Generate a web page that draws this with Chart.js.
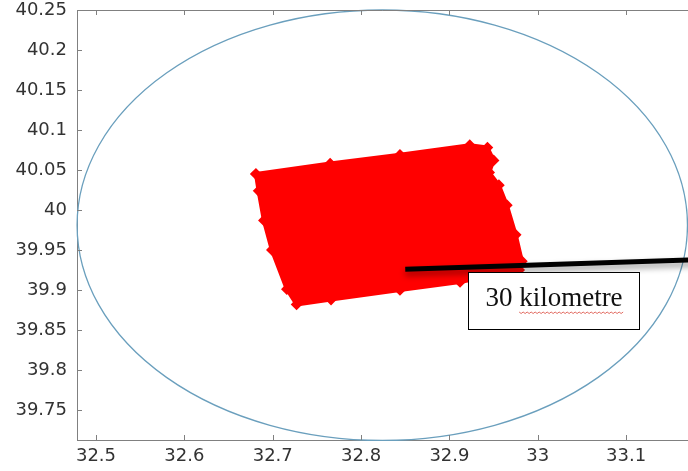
<!DOCTYPE html>
<html>
<head>
<meta charset="utf-8">
<script src="https://cdn.jsdelivr.net/npm/chart.js@4.4.0/dist/chart.umd.min.js"></script>
<style>
  html, body { margin: 0; padding: 0; background: #fff; }
</style>
</head>
<body>
<canvas id="chart" width="688" height="471"></canvas>
<script>
const zoneLon = [32.681, 32.765, 32.844, 32.923, 32.943, 32.950, 32.945, 32.956, 32.965, 32.975, 32.982, 32.979, 32.912, 32.844, 32.766, 32.727, 32.716, 32.699, 32.690, 32.684, 32.681];
const zoneLat = [40.045, 40.058, 40.069, 40.081, 40.078, 40.062, 40.047, 40.031, 40.006, 39.969, 39.936, 39.925, 39.910, 39.900, 39.888, 39.882, 39.901, 39.950, 39.987, 40.024, 40.045];

// radius line
const radiusLon = [32.850, 33.180];
const radiusLat = [39.926, 39.938];

// 30 km circle round the site
const circleCenter = [32.824, 39.981];
const circleRadius = [0.3454, 0.269];

// text box
const boxText = '30 kilometre';
const boxLon = [32.921, 33.114];
const boxLat = [39.9225, 39.851];

const xTicks = [32.5, 32.6, 32.7, 32.8, 32.9, 33, 33.1];
const xTickLabels = ['32.5', '32.6', '32.7', '32.8', '32.9', '33', '33.1'];
const yTicks = [39.75, 39.8, 39.85, 39.9, 39.95, 40, 40.05, 40.1, 40.15, 40.2, 40.25];
const yTickLabels = ['39.75', '39.8', '39.85', '39.9', '39.95', '40', '40.05', '40.1', '40.15', '40.2', '40.25'];

const axisColor = '#808080';

function toPoints(xs, ys) {
    return xs.map((v, i) => ({ x: v, y: ys[i] }));
}

const extras = {
    id: 'extras',
    beforeDatasetsDraw(chart) {
        const { ctx, scales: { x, y } } = chart;
        let cx = x.getPixelForValue(circleCenter[0]);
        let cy = y.getPixelForValue(circleCenter[1]);
        let rx = x.getPixelForValue(circleCenter[0] + circleRadius[0]) - cx;
        let ry = cy - y.getPixelForValue(circleCenter[1] + circleRadius[1]);
        ctx.save();
        ctx.beginPath();
        ctx.ellipse(cx, cy, rx, ry, 0, 0, Math.PI * 2);
        ctx.strokeStyle = '#6a9fbd';
        ctx.lineWidth = 1.3;
        ctx.stroke();
        ctx.restore();
    },
    beforeDatasetDraw(chart, args) {
        if (args.index === 1) {
            chart.ctx.save();
            chart.ctx.shadowColor = 'rgba(0,0,0,0.4)';
            chart.ctx.shadowBlur = 6;
            chart.ctx.shadowOffsetY = 4;
        }
    },
    afterDatasetDraw(chart, args) {
        if (args.index === 1) chart.ctx.restore();
    },
    afterDraw(chart) {
        const { ctx, chartArea: a, scales: { x, y } } = chart;
        ctx.save();
        // top border and inward ticks
        ctx.strokeStyle = axisColor;
        ctx.lineWidth = 1;
        ctx.beginPath();
        ctx.moveTo(a.left, a.top + 0.5);
        ctx.lineTo(a.right, a.top + 0.5);
        xTicks.forEach(v => {
            let px = Math.round(x.getPixelForValue(v)) + 0.5;
            ctx.moveTo(px, a.bottom);
            ctx.lineTo(px, a.bottom - 5);
            ctx.moveTo(px, a.top);
            ctx.lineTo(px, a.top + 5);
        });
        yTicks.forEach(v => {
            let py = Math.round(y.getPixelForValue(v)) + 0.5;
            ctx.moveTo(a.left, py);
            ctx.lineTo(a.left + 5, py);
        });
        ctx.stroke();

        // text box
        let bx0 = Math.round(x.getPixelForValue(boxLon[0])) + 0.5;
        let bx1 = Math.round(x.getPixelForValue(boxLon[1])) + 0.5;
        let by0 = Math.round(y.getPixelForValue(boxLat[0])) + 0.5;
        let by1 = Math.round(y.getPixelForValue(boxLat[1])) + 0.5;
        ctx.fillStyle = '#fff';
        ctx.fillRect(bx0, by0, bx1 - bx0, by1 - by0);
        ctx.strokeStyle = '#000';
        ctx.strokeRect(bx0, by0, bx1 - bx0, by1 - by0);
        ctx.font = '27px "Liberation Serif", "Times New Roman", serif';
        ctx.fillStyle = '#111';
        ctx.textAlign = 'center';
        ctx.textBaseline = 'middle';
        let mx = (bx0 + bx1) / 2, my = (by0 + by1) / 2 - 2;
        ctx.fillText(boxText, mx, my);

        // spell-check squiggle under the word
        let full = ctx.measureText(boxText).width;
        let lead = ctx.measureText('30 ').width;
        let sx = mx - full / 2 + lead, ex = mx + full / 2;
        let sy = my + 13;
        ctx.strokeStyle = '#d9463a';
        ctx.lineWidth = 0.8;
        ctx.beginPath();
        ctx.moveTo(sx, sy);
        for (let px = sx, k = 0; px < ex; px += 2, k++) {
            ctx.lineTo(px + 2, sy + (k % 2 ? 0 : 1.5));
        }
        ctx.stroke();
        ctx.restore();
    }
};

new Chart(document.getElementById('chart'), {
    type: 'scatter',
    data: {
        datasets: [
            {
                data: toPoints(zoneLon, zoneLat),
                order: 2,
                showLine: true,
                tension: 0,
                fill: 'shape',
                backgroundColor: '#ff0000',
                borderColor: '#ff0000',
                borderWidth: 4,
                borderJoinStyle: 'round',
                pointStyle: 'rectRot',
                pointRadius: 3,
                pointBackgroundColor: '#ff0000',
                pointBorderColor: '#ff0000'
            },
            {
                data: toPoints(radiusLon, radiusLat),
                order: 1,
                showLine: true,
                borderColor: '#000',
                borderWidth: 5,
                pointRadius: 0,
                clip: false
            }
        ]
    },
    options: {
        responsive: false,
        animation: false,
        events: [],
        layout: { autoPadding: false, padding: { top: 10, left: 0, right: 0, bottom: 0 } },
        plugins: {
            legend: { display: false },
            tooltip: { enabled: false }
        },
        scales: {
            x: {
                type: 'linear',
                min: 32.4785,
                max: 33.17,
                afterBuildTicks: s => { s.ticks = xTicks.map(v => ({ value: v })); },
                afterFit: s => { s.height = 31; s.paddingLeft = 0; s.paddingRight = 0; },
                grid: { display: false, drawTicks: false },
                border: { display: true, color: axisColor, width: 1 },
                ticks: {
                    padding: 6,
                    color: '#333',
                    font: { family: 'DejaVu Sans', size: 18 },
                    maxRotation: 0,
                    callback: (v) => xTickLabels[xTicks.indexOf(v)]
                }
            },
            y: {
                type: 'linear',
                min: 39.7125,
                max: 40.25,
                afterBuildTicks: s => { s.ticks = yTicks.map(v => ({ value: v })); },
                afterFit: s => { s.width = 77; s.paddingTop = 0; s.paddingBottom = 0; },
                grid: { display: false, drawTicks: false },
                border: { display: true, color: axisColor, width: 1 },
                ticks: {
                    padding: 10,
                    color: '#333',
                    font: { family: 'DejaVu Sans', size: 18 },
                    callback: (v) => yTickLabels[yTicks.indexOf(v)]
                }
            }
        }
    },
    plugins: [extras]
});
</script>
</body>
</html>
